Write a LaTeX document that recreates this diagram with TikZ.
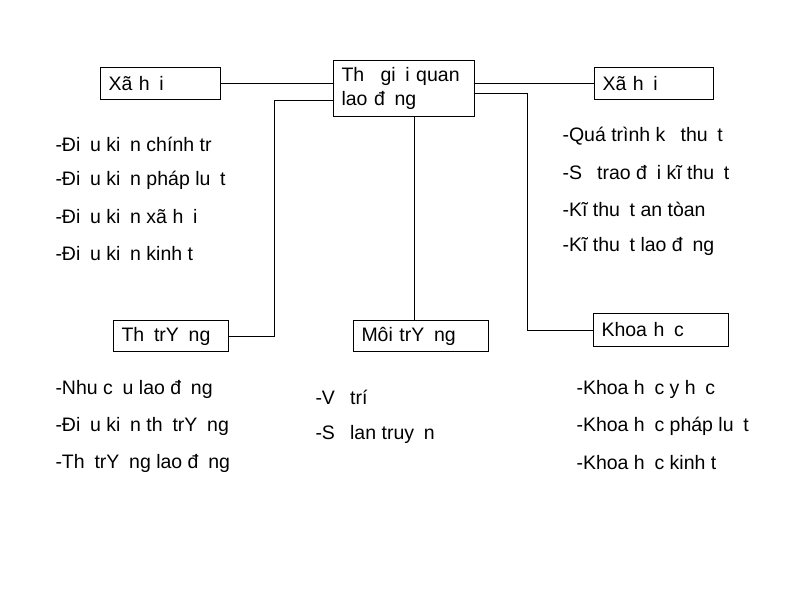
\documentclass[tikz,border=0pt]{standalone}
\usepackage{fontspec}
\setmainfont{Liberation Sans}
\usetikzlibrary{calc}
\newcommand{\miss}{\hspace{0.5em}}

\begin{document}
\begin{tikzpicture}[x=1pt,y=-1pt,line width=1pt,
    every node/.style={font=\fontsize{19.5}{24}\selectfont},
    box/.style={draw,anchor=north west,inner xsep=8pt,inner ysep=3pt,align=left,minimum height=32pt},
    item/.style={anchor=west,inner sep=0pt}]
      \useasboundingbox (0,0) rectangle (800,600);
      % boxes
      \node[box,text width=104pt] (xhl) at (100,67) {Xã h\miss i};
      \node[box,text width=125pt,minimum height=56pt] (tg) at (333,60) {Th\miss{} gi\miss i quan\\lao đ\miss ng};
      \node[box,text width=103pt] (xhr) at (594,67) {Xã h\miss i};
      \node[box,text width=99pt,minimum height=31pt] (tt) at (113,320) {Th\miss trY\miss ng};
      \node[box,text width=119pt,minimum height=31pt] (mt) at (353,320) {Môi trY\miss ng};
      \node[box,text width=119pt,minimum height=33pt] (kh) at (593,313) {Khoa h\miss c};
      % connectors
      \draw (xhl.east) -- (tg.west |- xhl.east);
      \draw (tg.east |- xhr.west) -- (xhr.west);
      \draw ([yshift=-12pt]tg.west) -| ($(tt.east)+(45,0)$) -- (tt.east);
      \draw ([yshift=-5pt]tg.east) -| ($(kh.west)+(-66,0)$) -- (kh.west);
      \draw ([xshift=10pt]tg.south) -- ([xshift=10pt]tg.south |- mt.north);
      % lists
      \foreach \t [count=\i] in {-Đi\miss u ki\miss n chính tr\miss,
          -Đi\miss u ki\miss n pháp lu\miss t,
          -Đi\miss u ki\miss n xã h\miss i,
          -Đi\miss u ki\miss n kinh t\miss}
        \node[item] (dk\i) at (55,{144+36.5*(\i-1)}) {\t};
      \foreach \t [count=\i] in {-Quá trình k\miss{} thu\miss t,
          -S\miss{} trao đ\miss i kĩ thu\miss t,
          -Kĩ thu\miss t an tòan,
          -Kĩ thu\miss t lao đ\miss ng}
        \node[item] (kt\i) at (562,{136+36.7*(\i-1)}) {\t};
      \foreach \t [count=\i] in {-Nhu c\miss u lao đ\miss ng,
          -Đi\miss u ki\miss n th\miss trY\miss ng,
          -Th\miss trY\miss ng lao đ\miss ng}
        \node[item] (nc\i) at (55,{389+37*(\i-1)}) {\t};
      \foreach \t [count=\i] in {-V\miss{} trí,
          -S\miss{} lan truy\miss n}
        \node[item] (vt\i) at (315,{397+37*(\i-1)}) {\t};
      \foreach \t [count=\i] in {-Khoa h\miss c y h\miss c,
          -Khoa h\miss c pháp lu\miss t,
          -Khoa h\miss c kinh t\miss}
        \node[item] (kh\i) at (576,{389+37*(\i-1)}) {\t};
\end{tikzpicture}
\end{document}
